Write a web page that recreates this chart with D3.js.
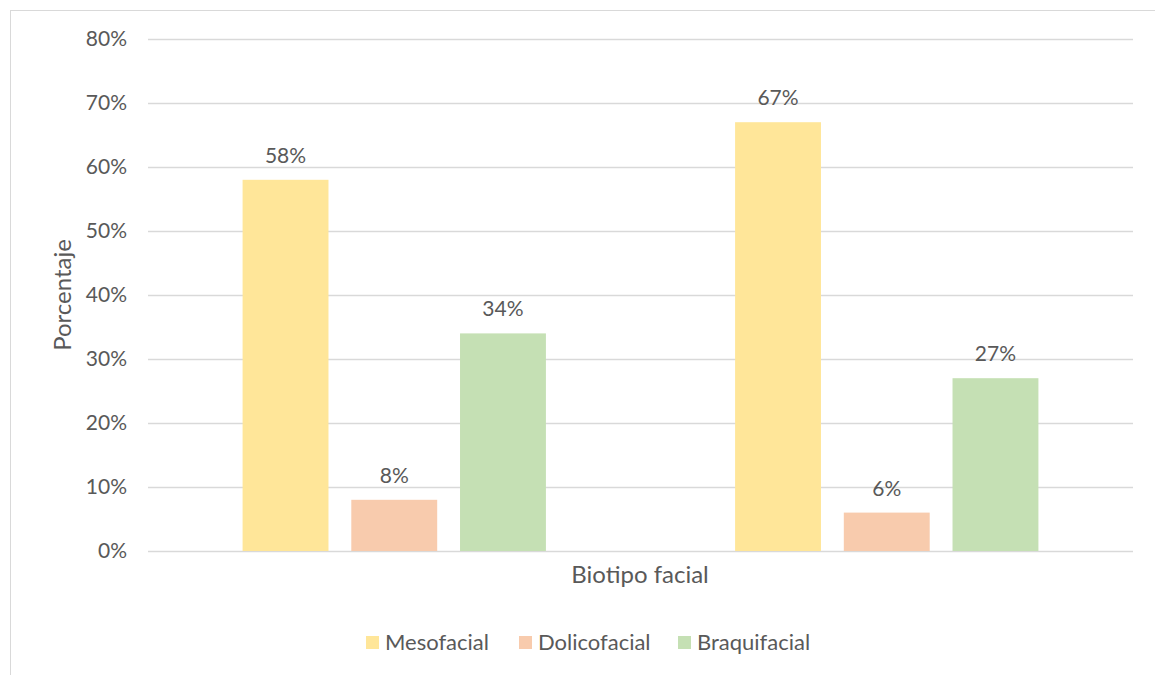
<!DOCTYPE html>
<html><head><meta charset="utf-8">
<script src="https://cdn.jsdelivr.net/npm/d3@7"></script>
<style>body{margin:0;background:#fff;} text{font-family:Lato,"Noto Sans",sans-serif;fill:#595959;}</style>
</head><body>
<svg id="c" width="1155" height="675"></svg>
<script>
const categories = ["Grupo 1", "Grupo 2"];
const seriesNames = ["Mesofacial", "Dolicofacial", "Braquifacial"];
const mesofacial = [0.58, 0.67];
const dolicofacial = [0.08, 0.06];
const braquifacial = [0.34, 0.27];
const tickValues = [0, 0.1, 0.2, 0.3, 0.4, 0.5, 0.6, 0.7, 0.8];
const colors = ["#FFE699", "#F8CBAD", "#C5E0B4"];

const svg = d3.select("#c");
const margin = {left:148, right:22, top:39, bottom:124};
const W = 1155, H = 675;
const x0 = d3.scaleBand().domain(categories).range([margin.left, W - margin.right]).paddingInner(0).paddingOuter(0);
const x1 = d3.scaleBand().domain(seriesNames).range([0, x0.bandwidth()]).paddingInner(0.21).paddingOuter(0.87);
const y = d3.scaleLinear().domain([0, 0.8]).range([H - margin.bottom, margin.top]);

// border
svg.append("rect").attr("x",10.5).attr("y",10.5).attr("width",1200).attr("height",700)
  .attr("fill","none").attr("stroke","#d9d9d9").attr("stroke-width",1);

// grid
svg.append("g").selectAll("line").data(tickValues).join("line")
  .attr("x1", margin.left).attr("x2", W - margin.right)
  .attr("y1", d => Math.round(y(d))+0.5).attr("y2", d => Math.round(y(d))+0.5)
  .attr("stroke", "#d9d9d9").attr("stroke-width", 1.5);

// y axis labels
const yAxis = d3.axisLeft(y).tickValues(tickValues).tickFormat(d3.format(".0%")).tickSize(0).tickPadding(21);
const ga = svg.append("g").attr("transform", `translate(${margin.left},0)`).call(yAxis);
ga.select(".domain").remove();
ga.selectAll("text").style("font-size","21px").style("fill","#595959").style("font-family","Lato, 'Noto Sans', sans-serif");

const data = categories.map((c,i)=>({cat:c, vals:[mesofacial[i], dolicofacial[i], braquifacial[i]]}));
const groups = svg.append("g").selectAll("g").data(data).join("g")
  .attr("transform", d => `translate(${x0(d.cat)},0)`);
groups.selectAll("rect").data(d => d.vals.map((v,j)=>({name:seriesNames[j], v, j}))).join("rect")
  .attr("x", d => x1(d.name)).attr("width", x1.bandwidth())
  .attr("y", d => y(d.v)).attr("height", d => y(0) - y(d.v))
  .attr("fill", d => colors[d.j]);
groups.selectAll("text.lbl").data(d => d.vals.map((v,j)=>({name:seriesNames[j], v, j}))).join("text")
  .attr("class","lbl")
  .attr("x", d => x1(d.name) + x1.bandwidth()/2).attr("y", d => y(d.v) - 17)
  .attr("text-anchor","middle").style("font-size","21px")
  .text(d => d3.format(".0%")(d.v));

// axis titles
svg.append("text").attr("x", 640).attr("y", 583).attr("text-anchor","middle").style("font-size","24px").text("Biotipo facial");
svg.append("text").attr("transform","translate(71,295) rotate(-90)").attr("text-anchor","middle").style("font-size","24px").text("Porcentaje");

// legend
const legX = [366, 519, 678];
const leg = svg.append("g").selectAll("g").data(seriesNames).join("g")
  .attr("transform", (d,i) => `translate(${legX[i]},636)`);
leg.append("rect").attr("width",13).attr("height",13).attr("fill",(d,i)=>colors[i]);
leg.append("text").attr("x",19).attr("y",14).style("font-size","22px").text(d=>d);
</script>
</body></html>
